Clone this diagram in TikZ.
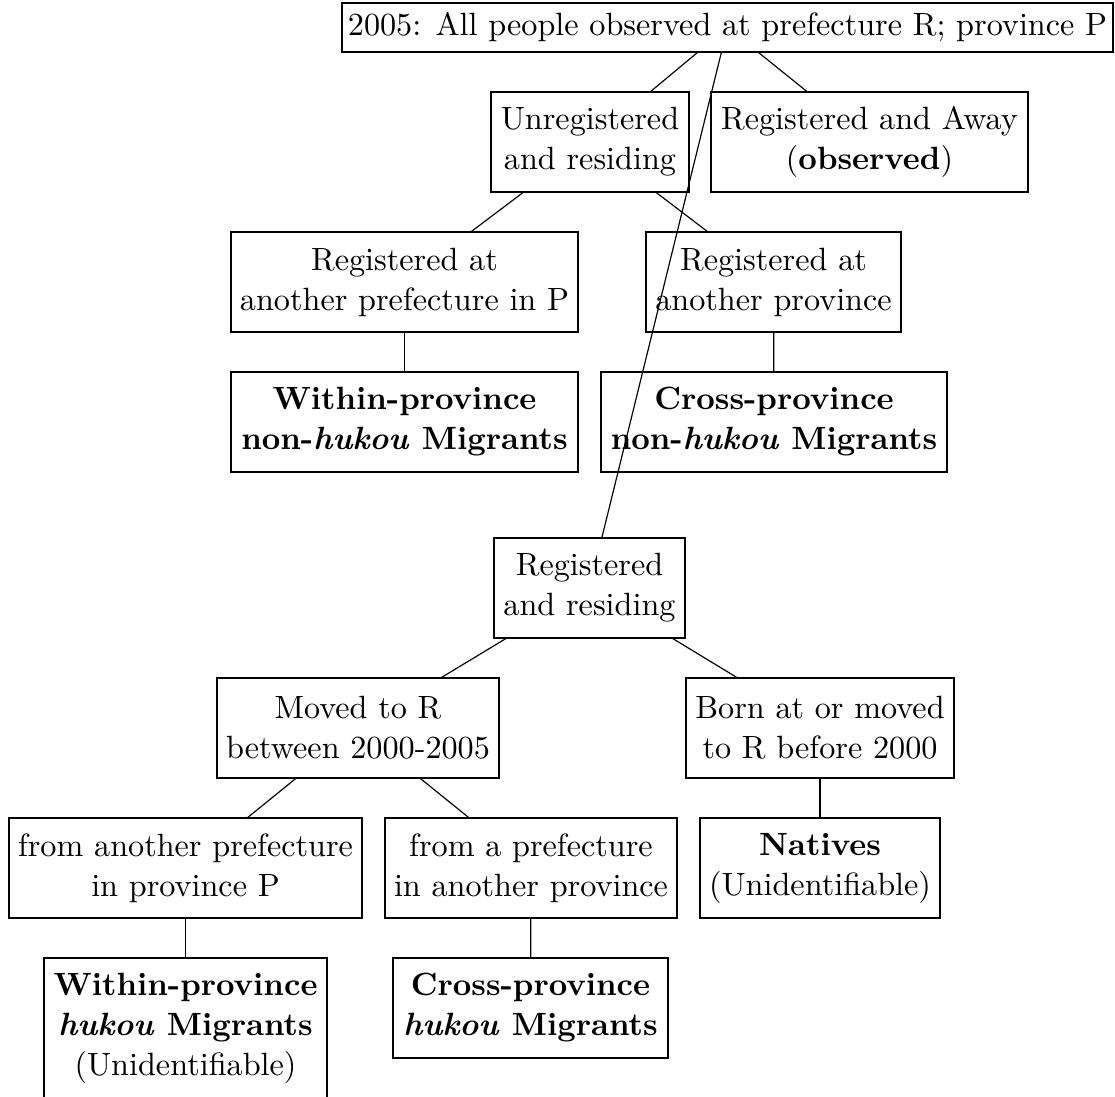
\documentclass[tikz,border=0pt]{standalone}
\begin{document}
\begin{tikzpicture}[x=0.34pt,y=-0.34pt,
  every node/.style={font=\fontsize{10.95}{13.6}\selectfont},
  box/.style={draw, align=center, inner xsep=2pt, inner ysep=3pt, minimum height=34pt},
  edge/.style={draw, line width=0.4pt}]
\useasboundingbox (0,0) rectangle (1115,1097);
\node[box, minimum width=261.5pt, minimum height=16.7pt] (top) at (727.5,27.5) {2005: All people observed at prefecture R; province P};
\node[box, minimum width=67.3pt] (unreg) at (590,142) {Unregistered\\and residing};
\node[box, minimum width=107.8pt] (away) at (869.5,142) {Registered and Away\\(\textbf{observed})};
\node[box, minimum width=118pt] (regpref) at (404.5,282) {Registered at\\another prefecture in P};
\node[box, minimum width=86.7pt] (regprov) at (773.5,282) {Registered at\\another province};
\node[box, minimum width=118pt] (withinnh) at (404.5,422) {\textbf{Within-province}\\\textbf{non-\textit{hukou} Migrants}};
\node[box, minimum width=117.6pt] (crossnh) at (774,422) {\textbf{Cross-province}\\\textbf{non-\textit{hukou} Migrants}};
\node[box, minimum width=64.9pt] (rr) at (589.5,588) {Registered\\and residing};
\node[box, minimum width=95.9pt] (moved) at (358,728) {Moved to R\\between 2000-2005};
\node[box, minimum width=91.1pt] (born) at (820,728) {Born at or moved\\to R before 2000};
\node[box, minimum width=120pt] (fromanother) at (185.5,868) {from another prefecture\\in province P};
\node[box, minimum width=99.3pt] (froma) at (531,868) {from a prefecture\\in another province};
\node[box, minimum width=81.6pt] (natives) at (820,868) {\textbf{Natives}\\(Unidentifiable)};
\node[box, minimum width=96.2pt, minimum height=47.6pt] (withinh) at (185.5,1028) {\textbf{Within-province}\\\textbf{\textit{hukou} Migrants}\\(Unidentifiable)};
\node[box, minimum width=93.5pt] (crossh) at (530.5,1008) {\textbf{Cross-province}\\\textbf{\textit{hukou} Migrants}};
\draw[edge] (top) -- (unreg);
\draw[edge] (top) -- (away);
\draw[edge] (top) -- (rr);
\draw[edge] (unreg) -- (regpref);
\draw[edge] (unreg) -- (regprov);
\draw[edge] (regpref) -- (withinnh);
\draw[edge] (regprov) -- (crossnh);
\draw[edge] (rr) -- (moved);
\draw[edge] (rr) -- (born);
\draw[edge] (moved) -- (fromanother);
\draw[edge] (moved) -- (froma);
\draw[edge] (born) -- (natives);
\draw[edge] (fromanother) -- (withinh);
\draw[edge] (froma) -- (crossh);
\end{tikzpicture}
\end{document}
